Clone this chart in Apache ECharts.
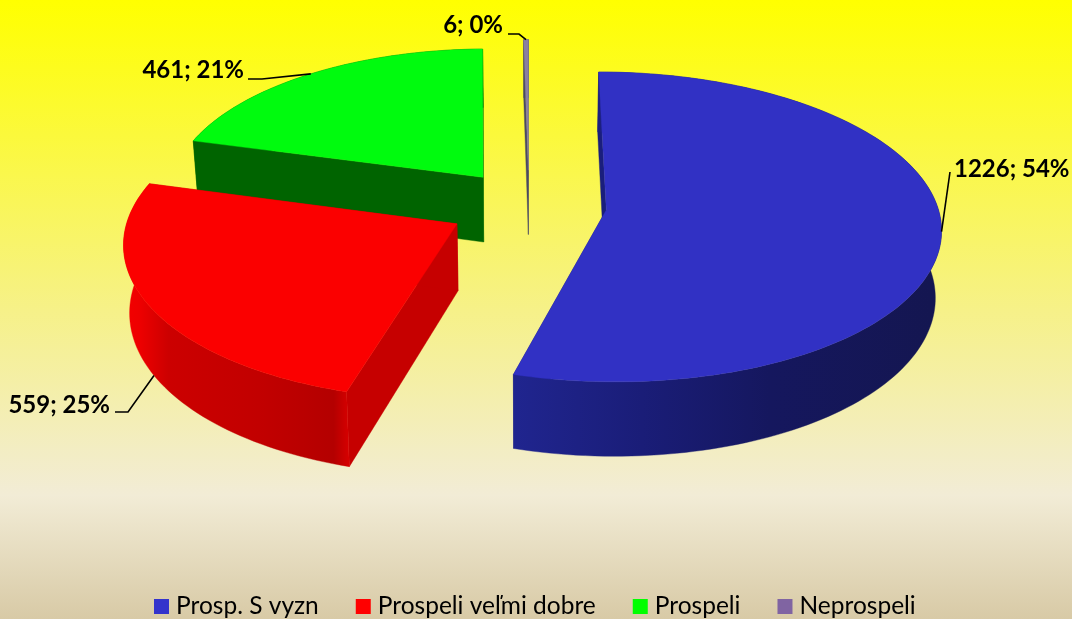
<!DOCTYPE html>
<html>
<head>
<meta charset="utf-8">
<style>html,body{margin:0;padding:0;width:100%;height:100%;overflow:hidden}#c{width:1072px;height:619px}</style>
<script src="https://cdn.jsdelivr.net/npm/echarts@6/dist/echarts.min.js"></script>
</head>
<body>
<div id="c"></div>
<script>
// ---- data ----
const categories = ['Prosp. S vyzn', 'Prospeli veľmi dobre', 'Prospeli', 'Neprospeli'];
const values = [1226, 559, 461, 6];
const percentLabels = [54, 25, 21, 0];

// ---- styles and layout ----
const topColors = ['#3131c4', '#fb0000', '#00fb0e', '#8a80a0'];
const legendColors = ['#3333cc', '#ff0000', '#00ff00', '#8064a2'];
const wallColors = ['#1a1e7c', '#c60000', '#006400', '#4a4a60'];
const rimStops = [
  [[0, '#20258f'], [0.3, '#1a1d78'], [0.6, '#15175e'], [1, '#141650']],
  [[0, '#f40000'], [0.07, '#ee0000'], [0.2, '#cc0000'], [0.6, '#c20000'], [0.93, '#b40000'], [1, '#d80000']],
  [[0, '#006400'], [1, '#006400']],
  [[0, '#4a4a60'], [1, '#4a4a60']]
];
const labelAt = [[954, 169, 'left'], [110, 405, 'right'], [244, 70, 'right'], [503, 25, 'right']];
const elbows = [[[950, 172]], [[128, 412], [115, 412]], [[262, 79], [248, 79]], [[519, 34], [508, 34]]];
const anchorOnBottomRim = [false, true, false, false];
const zOrder = [3, 4, 2, 1];
const explodeBy = [0.235, 0.25, 0.235, 0.235];
const radiusBy = [1, 1, 0.97, 1];

const P = {cx: 529, cy: 205, a: 331, b: 152, k: 0.109, h: 66, shrink: 0.985, leftScale: 0.985};
const total = values.reduce((s, v) => s + v, 0);
const cumBefore = values.map((_, i) => values.slice(0, i).reduce((s, v) => s + v, 0));

function project(X, Y, low) {
  const w = 1 + P.k * Y;
  let x = P.cx + P.a * (X < 0 ? X * P.leftScale : X) / w, y = P.cy - P.b * Y / w;
  if (low) { x = P.cx + (x - P.cx) * P.shrink; y += P.h / w; }
  return [x, y];
}
function renderSlice(idx) {
  return function (params, api) {
    const v = api.value(0), before = api.value(1);
    const a0 = before / total * 2 * Math.PI, a1 = (before + v) / total * 2 * Math.PI, mid = (a0 + a1) / 2;
    const ox = explodeBy[idx] * Math.sin(mid), oy = explodeBy[idx] * Math.cos(mid), r = radiusBy[idx];
    const rim = (t, low) => project(ox + r * Math.sin(t), oy + r * Math.cos(t), low);
    const apexT = project(ox, oy, false), apexB = project(ox, oy, true);
    const steps = Math.max(2, Math.round((a1 - a0) * 40));
    const arcT = [], arcB = [];
    for (let i = 0; i <= steps; i++) {
      const t = a0 + (a1 - a0) * i / steps;
      arcT.push(rim(t, false)); arcB.push(rim(t, true));
    }
    const poly = (points, fill) => ({type: 'polygon', shape: {points}, style: {fill, stroke: fill, lineWidth: 0.4}, silent: true});
    const grad = {type: 'linear', x: 0, y: 0, x2: 1, y2: 0, colorStops: rimStops[idx].map(s => ({offset: s[0], color: s[1]}))};
    const last = arcT.length - 1;
    const children = [
      poly([apexT, arcT[0], arcB[0], apexB], wallColors[idx]),
      poly([apexT, arcT[last], arcB[last], apexB], wallColors[idx]),
      poly(arcT.concat(arcB.slice().reverse()), grad),
      poly([apexT].concat(arcT), topColors[idx])
    ];
    const anchor = rim(mid, anchorOnBottomRim[idx]);
    children.push({type: 'polyline', shape: {points: [anchor].concat(elbows[idx])}, style: {stroke: '#000', lineWidth: 1.6, fill: null}, silent: true, z2: 10});
    const L = labelAt[idx];
    children.push({type: 'text', x: L[0], y: L[1], style: {text: v + '; ' + percentLabels[idx] + '%', fill: '#000', font: 'bold 24px Lato', textAlign: L[2], textVerticalAlign: 'middle'}, silent: true, z2: 11});
    return {type: 'group', children};
  };
}
const chart = echarts.init(document.getElementById('c'), null, {renderer: 'canvas'});
chart.setOption({
  animation: false,
  backgroundColor: {type: 'linear', x: 0, y: 0, x2: 0, y2: 1, colorStops: [
    {offset: 0, color: '#ffff00'}, {offset: 0.5, color: '#f6f188'},
    {offset: 0.8, color: '#f2ecd6'}, {offset: 1, color: '#d8caa6'}]},
  legend: {
    left: 149, top: 589, icon: 'rect', itemWidth: 15, itemHeight: 15, itemGap: 37, selectedMode: false,
    textStyle: {fontFamily: 'Lato', fontSize: 24.5, color: '#000', padding: [0, 0, 0, 2]},
    data: categories
  },
  series: categories.map((name, i) => ({
    type: 'custom', name, coordinateSystem: 'none', z: zOrder[i],
    itemStyle: {color: legendColors[i]},
    renderItem: renderSlice(i), data: [[values[i], cumBefore[i]]]
  }))
});
</script>
</body>
</html>
